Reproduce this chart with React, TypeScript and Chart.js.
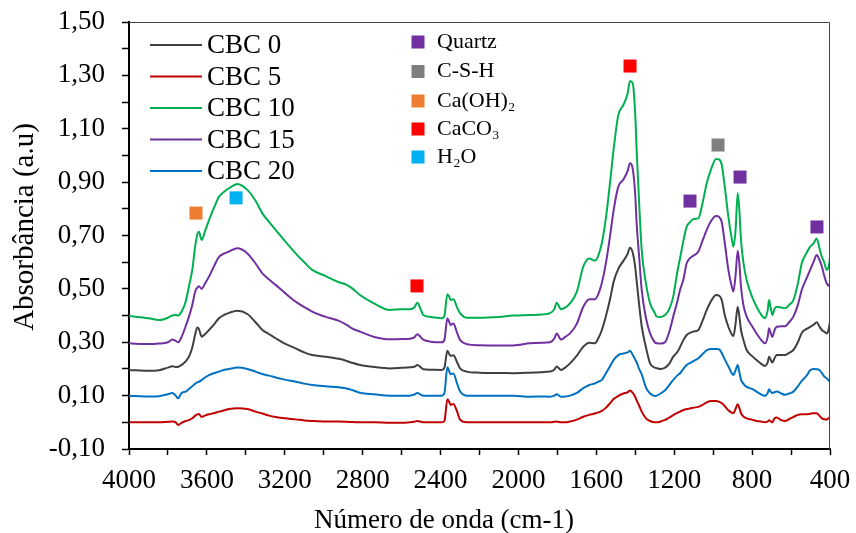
import { useEffect, useRef } from "react";
import { Chart, registerables } from "chart.js";

Chart.register(...registerables);

const FONT = "'Liberation Serif', 'Times New Roman', serif";

// Wavenumbers (cm-1), shared by all spectra
const wavenumbers = [
  4000, 3900, 3846, 3800, 3778, 3760, 3747, 3730, 3709, 3692,
  3675, 3660, 3649, 3641, 3627, 3610, 3589, 3560, 3538, 3510,
  3486, 3444, 3392, 3350, 3315, 3280, 3247, 3200, 3144, 3100,
  3059, 2990, 2922, 2882, 2850, 2814, 2740, 2660, 2600, 2557,
  2535, 2519, 2500, 2489, 2450, 2394, 2380, 2365, 2355, 2348,
  2334, 2315, 2300, 2266, 2200, 2100, 2026, 1941, 1880, 1838,
  1815, 1804, 1781, 1760, 1735, 1700, 1667, 1636, 1607, 1590,
  1572, 1550, 1530, 1510, 1487, 1461, 1440, 1427, 1413, 1400,
  1393, 1380, 1367, 1345, 1324, 1300, 1290, 1270, 1247, 1225,
  1205, 1185, 1170, 1153, 1136, 1119, 1100, 1076, 1055, 1033,
  1010, 985, 970, 956, 940, 922, 905, 896, 885, 874,
  866, 857, 845, 828, 800, 777, 755, 734, 720, 713,
  705, 696, 685, 674, 650, 631, 610, 588, 565, 545,
  520, 502, 485, 468, 455, 442, 430, 417, 408, 400,
];

const cbc0 = [
  0.196, 0.193, 0.195, 0.205, 0.210, 0.207, 0.208, 0.215, 0.228, 0.246,
  0.280, 0.330, 0.355, 0.350, 0.321, 0.330, 0.346, 0.370, 0.390, 0.403,
  0.410, 0.418, 0.406, 0.375, 0.346, 0.330, 0.315, 0.295, 0.277, 0.262,
  0.252, 0.246, 0.238, 0.230, 0.222, 0.215, 0.207, 0.202, 0.204, 0.206,
  0.208, 0.215, 0.205, 0.199, 0.197, 0.196, 0.205, 0.268, 0.255, 0.249,
  0.251, 0.225, 0.202, 0.190, 0.186, 0.185, 0.184, 0.186, 0.188, 0.190,
  0.198, 0.209, 0.196, 0.205, 0.221, 0.250, 0.283, 0.298, 0.296, 0.315,
  0.345, 0.400, 0.460, 0.530, 0.575, 0.605, 0.630, 0.654, 0.635, 0.580,
  0.530, 0.440, 0.360, 0.280, 0.221, 0.205, 0.203, 0.200, 0.205, 0.220,
  0.246, 0.262, 0.282, 0.308, 0.327, 0.335, 0.340, 0.346, 0.380, 0.421,
  0.455, 0.477, 0.475, 0.458, 0.400, 0.358, 0.330, 0.323, 0.370, 0.433,
  0.400, 0.346, 0.310, 0.271, 0.248, 0.233, 0.220, 0.211, 0.225, 0.246,
  0.235, 0.224, 0.240, 0.252, 0.252, 0.252, 0.260, 0.271, 0.300, 0.335,
  0.350, 0.358, 0.365, 0.375, 0.360, 0.346, 0.340, 0.333, 0.345, 0.377,
];

const cbc5 = [
  0.000, 0.000, 0.000, 0.002, 0.003, 0.000, -0.010, -0.002, 0.005, 0.008,
  0.015, 0.025, 0.030, 0.031, 0.020, 0.025, 0.030, 0.035, 0.040, 0.045,
  0.050, 0.053, 0.050, 0.040, 0.033, 0.025, 0.020, 0.015, 0.011, 0.007,
  0.005, 0.003, 0.003, 0.002, 0.001, 0.000, 0.000, -0.002, -0.002, 0.000,
  0.002, 0.005, 0.002, 0.000, 0.000, 0.000, 0.005, 0.086, 0.075, 0.065,
  0.069, 0.040, 0.010, 0.000, 0.000, 0.000, 0.000, 0.000, 0.000, 0.000,
  0.002, 0.003, 0.000, 0.000, 0.003, 0.010, 0.021, 0.028, 0.033, 0.037,
  0.043, 0.055, 0.071, 0.088, 0.099, 0.108, 0.112, 0.119, 0.110, 0.095,
  0.082, 0.062, 0.040, 0.015, 0.005, 0.000, 0.000, 0.003, 0.009, 0.018,
  0.027, 0.035, 0.040, 0.046, 0.050, 0.052, 0.055, 0.058, 0.065, 0.075,
  0.080, 0.080, 0.077, 0.072, 0.060, 0.045, 0.036, 0.034, 0.050, 0.068,
  0.055, 0.034, 0.022, 0.015, 0.010, 0.005, 0.003, 0.000, 0.003, 0.008,
  0.004, 0.000, 0.015, 0.018, 0.008, 0.005, 0.012, 0.020, 0.028, 0.030,
  0.030, 0.032, 0.034, 0.034, 0.025, 0.015, 0.012, 0.010, 0.015, 0.020,
];

const cbc10 = [
  0.398, 0.390, 0.383, 0.392, 0.400, 0.402, 0.400, 0.415, 0.452, 0.510,
  0.571, 0.660, 0.705, 0.714, 0.683, 0.715, 0.758, 0.810, 0.845, 0.865,
  0.877, 0.893, 0.871, 0.830, 0.783, 0.750, 0.721, 0.680, 0.633, 0.600,
  0.571, 0.548, 0.525, 0.515, 0.500, 0.477, 0.445, 0.421, 0.424, 0.424,
  0.430, 0.448, 0.420, 0.402, 0.395, 0.390, 0.400, 0.480, 0.470, 0.458,
  0.461, 0.430, 0.409, 0.392, 0.392, 0.395, 0.400, 0.402, 0.404, 0.409,
  0.425, 0.448, 0.424, 0.430, 0.446, 0.490, 0.583, 0.614, 0.606, 0.625,
  0.671, 0.770, 0.896, 1.030, 1.152, 1.189, 1.230, 1.279, 1.270, 1.150,
  1.020, 0.820, 0.646, 0.520, 0.446, 0.410, 0.396, 0.395, 0.402, 0.425,
  0.471, 0.560, 0.615, 0.680, 0.733, 0.750, 0.762, 0.764, 0.820, 0.896,
  0.950, 0.987, 0.985, 0.965, 0.880, 0.771, 0.690, 0.658, 0.720, 0.858,
  0.800, 0.683, 0.600, 0.533, 0.470, 0.433, 0.405, 0.390, 0.420, 0.458,
  0.430, 0.402, 0.425, 0.433, 0.430, 0.427, 0.440, 0.458, 0.520, 0.596,
  0.635, 0.658, 0.670, 0.689, 0.655, 0.621, 0.600, 0.571, 0.580, 0.615,
];

const cbc15 = [
  0.296, 0.293, 0.295, 0.300, 0.310, 0.305, 0.300, 0.320, 0.360, 0.396,
  0.440, 0.490, 0.505, 0.510, 0.500, 0.520, 0.546, 0.590, 0.620, 0.633,
  0.640, 0.652, 0.633, 0.595, 0.558, 0.535, 0.515, 0.485, 0.452, 0.432,
  0.415, 0.395, 0.380, 0.365, 0.350, 0.340, 0.320, 0.311, 0.312, 0.313,
  0.318, 0.330, 0.318, 0.310, 0.302, 0.300, 0.310, 0.390, 0.375, 0.365,
  0.370, 0.335, 0.309, 0.293, 0.289, 0.288, 0.288, 0.296, 0.298, 0.300,
  0.315, 0.333, 0.310, 0.320, 0.333, 0.370, 0.433, 0.461, 0.461, 0.480,
  0.521, 0.600, 0.696, 0.800, 0.883, 0.910, 0.940, 0.971, 0.950, 0.850,
  0.746, 0.620, 0.496, 0.390, 0.333, 0.300, 0.296, 0.295, 0.300, 0.340,
  0.396, 0.450, 0.496, 0.535, 0.596, 0.615, 0.625, 0.640, 0.680, 0.721,
  0.755, 0.773, 0.770, 0.750, 0.670, 0.571, 0.510, 0.490, 0.550, 0.643,
  0.600, 0.508, 0.440, 0.396, 0.360, 0.333, 0.310, 0.296, 0.320, 0.352,
  0.335, 0.320, 0.345, 0.358, 0.360, 0.360, 0.375, 0.396, 0.440, 0.496,
  0.540, 0.571, 0.600, 0.627, 0.610, 0.585, 0.550, 0.521, 0.512, 0.520,
];

const cbc20 = [
  0.100, 0.097, 0.098, 0.105, 0.110, 0.100, 0.090, 0.110, 0.115, 0.125,
  0.135, 0.145, 0.150, 0.152, 0.158, 0.168, 0.177, 0.185, 0.190, 0.197,
  0.200, 0.205, 0.200, 0.190, 0.181, 0.175, 0.168, 0.160, 0.152, 0.145,
  0.140, 0.135, 0.131, 0.127, 0.120, 0.111, 0.105, 0.100, 0.100, 0.100,
  0.104, 0.110, 0.103, 0.100, 0.100, 0.100, 0.110, 0.206, 0.190, 0.180,
  0.183, 0.145, 0.116, 0.100, 0.100, 0.100, 0.100, 0.096, 0.097, 0.096,
  0.100, 0.105, 0.096, 0.097, 0.100, 0.110, 0.128, 0.140, 0.146, 0.152,
  0.159, 0.185, 0.210, 0.235, 0.252, 0.258, 0.262, 0.268, 0.252, 0.235,
  0.225, 0.200, 0.180, 0.130, 0.108, 0.099, 0.100, 0.108, 0.120, 0.140,
  0.159, 0.175, 0.184, 0.200, 0.215, 0.222, 0.230, 0.240, 0.255, 0.270,
  0.275, 0.275, 0.274, 0.260, 0.235, 0.210, 0.185, 0.177, 0.195, 0.215,
  0.190, 0.160, 0.145, 0.133, 0.125, 0.115, 0.105, 0.099, 0.110, 0.124,
  0.115, 0.110, 0.113, 0.115, 0.108, 0.103, 0.108, 0.115, 0.135, 0.155,
  0.175, 0.195, 0.200, 0.199, 0.196, 0.185, 0.172, 0.165, 0.158, 0.152,
];

const seriesNames = ["CBC 0", "CBC 5", "CBC 10", "CBC 15", "CBC 20"];
const seriesColors = ["#404040", "#C00000", "#00B050", "#7030A0", "#0070C0"];
const seriesValues = [cbc0, cbc5, cbc10, cbc15, cbc20];

// Band markers (squares)
const markerNames = ["Quartz", "C-S-H", "Ca(OH)₂", "CaCO₃", "H₂O"];
const markerColors = ["#7030A0", "#7F7F7F", "#ED7D31", "#FF0000", "#00B0F0"];
const quartzX = [1119, 862, 467];
const quartzY = [0.829, 0.919, 0.732];
const cshX = [975];
const cshY = [1.039];
const caohX = [3656];
const caohY = [0.784];
const caco3X = [2521, 1427];
const caco3Y = [0.511, 1.335];
const h2oX = [3450];
const h2oY = [0.841];
const markerXs = [quartzX, cshX, caohX, caco3X, h2oX];
const markerYs = [quartzY, cshY, caohY, caco3Y, h2oY];

const xTitle = "Número de onda (cm-1)";
const yTitle = "Absorbância (a.u)";

const overlayPlugin = {
  id: "overlay",
  afterDraw(chart: any) {
    const ctx = chart.ctx;
    const a = chart.chartArea;
    ctx.save();
    // thin top/right frame
    ctx.strokeStyle = "#444";
    ctx.lineWidth = 1;
    ctx.beginPath();
    ctx.moveTo(a.left, a.top + 0.5);
    ctx.lineTo(a.right - 0.5, a.top + 0.5);
    ctx.lineTo(a.right - 0.5, a.bottom);
    ctx.stroke();

    // line legend
    ctx.textAlign = "left";
    ctx.textBaseline = "middle";
    ctx.font = `27px ${FONT}`;
    for (let i = 0; i < seriesNames.length; i++) {
      const y = 45 + i * 31.5;
      ctx.strokeStyle = seriesColors[i];
      ctx.lineWidth = 2;
      ctx.beginPath();
      ctx.moveTo(150, y);
      ctx.lineTo(202, y);
      ctx.stroke();
      ctx.fillStyle = "#000";
      ctx.fillText(seriesNames[i], 207, y + 1);
    }

    // marker legend
    const my = [42, 71.5, 101, 129, 157];
    ctx.font = `22px ${FONT}`;
    for (let i = 0; i < markerNames.length; i++) {
      ctx.fillStyle = markerColors[i];
      ctx.fillRect(411.5, my[i] - 6.5, 13, 13);
      ctx.fillStyle = "#000";
      ctx.fillText(markerNames[i], 437, my[i]);
    }

    // axis titles
    ctx.font = `27px ${FONT}`;
    ctx.textAlign = "center";
    ctx.fillText(xTitle, 444, 521);
    ctx.translate(25, 227);
    ctx.rotate(-Math.PI / 2);
    ctx.font = `29px ${FONT}`;
    ctx.fillText(yTitle, 0, 0);
    ctx.restore();
  },
};

export default function App() {
  const ref = useRef<HTMLCanvasElement | null>(null);
  useEffect(() => {
    if (!ref.current) return;
    const lineSets = seriesNames.map((name, i) => ({
      type: "line" as const,
      label: name,
      data: wavenumbers.map((w, j) => ({ x: w, y: seriesValues[i][j] })),
      borderColor: seriesColors[i],
      backgroundColor: seriesColors[i],
      borderWidth: 2,
      pointRadius: 0,
      cubicInterpolationMode: "monotone" as const,
      fill: false,
      order: 2,
    }));
    const markerSets = markerNames.map((name, i) => ({
      type: "scatter" as const,
      label: name,
      data: markerXs[i].map((x, j) => ({ x, y: markerYs[i][j] })),
      pointStyle: "rect",
      pointRadius: 9.2,
      pointHoverRadius: 9.2,
      backgroundColor: markerColors[i],
      borderWidth: 0,
      showLine: false,
      order: 1,
    }));
    const chart = new Chart(ref.current, {
      type: "line",
      data: { datasets: [...lineSets, ...markerSets] as any },
      options: {
        animation: false,
        responsive: false,
        maintainAspectRatio: false,
        layout: { padding: { left: 0, top: 22, right: 26, bottom: 0 } },
        plugins: { legend: { display: false }, tooltip: { enabled: false } },
        scales: {
          x: {
            type: "linear",
            reverse: true,
            min: 400,
            max: 4000,
            afterFit: (s: any) => {
              s.height = 84;
              s.paddingLeft = 0;
              s.paddingRight = 0;
            },
            border: { display: true, color: "#000", width: 2 },
            grid: {
              display: true,
              drawOnChartArea: false,
              drawTicks: true,
              tickLength: 6,
              tickColor: "#000",
              tickWidth: 1.5,
            },
            ticks: {
              stepSize: 200,
              autoSkip: false,
              maxRotation: 0,
              padding: 10,
              color: "#000",
              font: { family: FONT, size: 27 },
              callback: (v: any) => (Math.round(v) % 400 === 0 ? String(v) : ""),
            },
          },
          y: {
            type: "linear",
            min: -0.1,
            max: 1.5,
            afterFit: (s: any) => {
              s.width = 129;
              s.paddingTop = 0;
              s.paddingBottom = 0;
            },
            border: { display: true, color: "#000", width: 2 },
            grid: {
              display: true,
              drawOnChartArea: false,
              drawTicks: true,
              tickLength: 7,
              tickColor: "#000",
              tickWidth: 1.5,
            },
            ticks: {
              stepSize: 0.1,
              autoSkip: false,
              padding: 17,
              color: "#000",
              font: { family: FONT, size: 27 },
              callback: (v: any) => {
                const k = Math.round(Number(v) * 10);
                return Math.abs(k) % 2 === 1 ? (k / 10).toFixed(2).replace(".", ",") : "";
              },
            },
          },
        },
      },
      plugins: [overlayPlugin],
    });
    return () => chart.destroy();
  }, []);
  return (
    <div style={{ position: "absolute", left: 0, top: 0, width: 856, height: 533, background: "#fff" }}>
      <canvas ref={ref} width={856} height={533} style={{ display: "block" }} />
    </div>
  );
}
